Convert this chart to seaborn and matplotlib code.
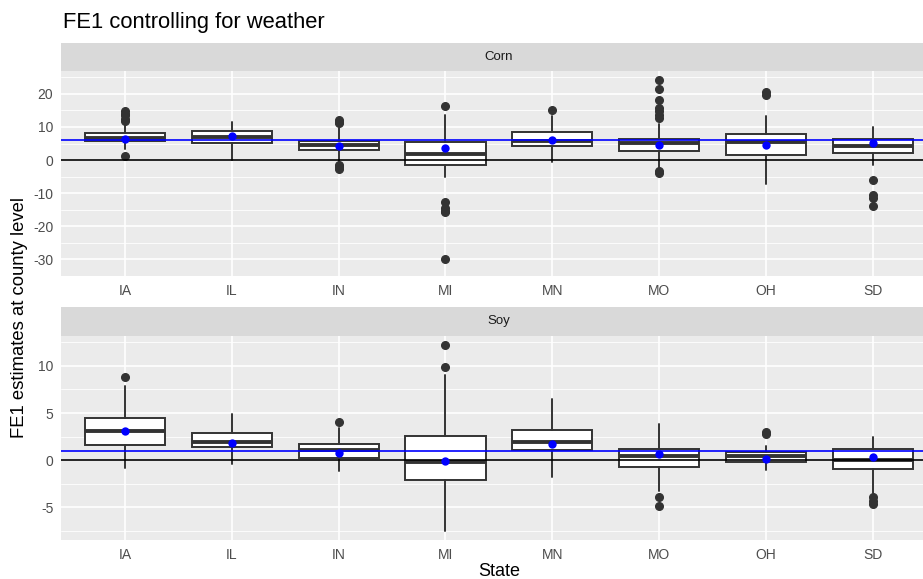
import numpy as np
import matplotlib
matplotlib.use("Agg")
import matplotlib.pyplot as plt
import seaborn as sns

# FE1 estimates by state, box stats
states = ["IA", "IL", "IN", "MI", "MN", "MO", "OH", "SD"]

corn_q1 = [5.65, 5.15, 3.1, -1.35, 4.4, 2.6, 1.55, 2.25]
corn_med = [6.6, 6.9, 4.5, 1.75, 5.9, 5.3, 5.45, 4.3]
corn_q3 = [8.1, 8.65, 5.85, 5.35, 8.35, 6.5, 7.9, 6.25]
corn_lo = [3.5, 0.0, -0.7, -5.0, -0.7, -2.3, -7.2, -1.35]
corn_hi = [11.5, 11.6, 9.6, 13.7, 13.2, 11.0, 13.4, 10.1]
corn_out = [[14.7, 14.0, 13.5, 12.5, 11.8, 1.3], [],
            [12.2, 11.6, 11.3, -1.4, -2.2, -2.8],
            [16.4, -12.6, -14.5, -15.3, -15.8, -30.0], [15.1],
            [24.2, 21.5, 18.3, 15.6, 14.7, 13.7, 12.7, -3.2, -4.0],
            [20.5, 19.7], [-6.0, -10.4, -11.4, -14.0]]
corn_mean = [6.4, 7.3, 4.4, 3.8, 6.0, 4.65, 4.5, 5.25]
corn_overall = 6.2

soy_q1 = [1.65, 1.37, 0.28, -2.04, 1.06, -0.74, -0.14, -0.95]
soy_med = [3.1, 1.97, 1.13, -0.21, 1.94, 0.45, 0.49, 0.05]
soy_q3 = [4.5, 2.92, 1.73, 2.6, 3.2, 1.2, 0.92, 1.2]
soy_lo = [-0.85, -0.42, -1.13, -7.46, -1.73, -3.3, -1.06, -3.42]
soy_hi = [7.9, 4.86, 3.45, 9.05, 6.5, 3.87, 1.51, 2.46]
soy_out = [[8.77], [], [4.08], [12.2, 9.82], [], [-3.84, -4.82],
           [3.03, 2.75], [-3.94, -4.3, -4.65]]
soy_mean = [3.1, 1.83, 0.81, -0.1, 1.73, 0.63, 0.1, 0.32]
soy_overall = 1.0

sns.set_theme(style="darkgrid", rc={
    "axes.facecolor": "#EBEBEB",
    "grid.color": "white",
    "axes.edgecolor": "#EBEBEB",
    "xtick.color": "#333333",
    "ytick.color": "#333333",
    "xtick.labelcolor": "#4D4D4D",
    "ytick.labelcolor": "#4D4D4D",
    "axes.unicode_minus": False,
})
plt.rcParams["font.family"] = ["Liberation Sans", "DejaVu Sans"]

fig = plt.figure(figsize=(9.23, 5.79), dpi=100)

W, H = 923, 579
left, right = 61, 936.8


def frac_box(x0, x1, top, bottom):
    return [x0 / W, 1 - bottom / H, (x1 - x0) / W, (bottom - top) / H]


panels = [
    ("Corn", (43, 71, 276), corn_q1, corn_med, corn_q3, corn_lo, corn_hi,
     corn_out, corn_mean, corn_overall, [-30, -20, -10, 0, 10, 20], 10),
    ("Soy", (307, 335.7, 540), soy_q1, soy_med, soy_q3, soy_lo, soy_hi,
     soy_out, soy_mean, soy_overall, [-5, 0, 5, 10], 5),
]

for (name, (s_top, p_top, p_bot), q1, med, q3, lo, hi, out, means,
     overall, yt, step) in panels:
    # strip
    sax = fig.add_axes(frac_box(left, right, s_top, p_top))
    sax.set_facecolor("#D9D9D9")
    sax.set_xticks([])
    sax.set_yticks([])
    sax.grid(False)
    for sp in sax.spines.values():
        sp.set_visible(False)
    sax.text(0.5, 0.5, name, ha="center", va="center", fontsize=9.5,
             color="#1A1A1A", transform=sax.transAxes)

    ax = fig.add_axes(frac_box(left, right, p_top, p_bot))
    stats = []
    for i, s in enumerate(states):
        stats.append({"label": s, "q1": q1[i], "med": med[i], "q3": q3[i],
                      "whislo": lo[i], "whishi": hi[i], "fliers": out[i]})
    ax.bxp(stats, positions=np.arange(len(states)), widths=0.75,
           patch_artist=True, showfliers=True,
           boxprops=dict(facecolor="white", edgecolor="#333333", linewidth=1.4),
           medianprops=dict(color="#333333", linewidth=2.8),
           whiskerprops=dict(color="#333333", linewidth=1.4),
           capprops=dict(linewidth=0),
           flierprops=dict(marker="o", markerfacecolor="#333333",
                           markeredgecolor="#333333", markersize=5.5))
    ax.axhline(0, color="black", linewidth=1.2, zorder=4)
    ax.axhline(overall, color="blue", linewidth=1.2, zorder=4)
    sns.stripplot(x=states, y=means, jitter=False, color="blue", size=6,
                  linewidth=0, ax=ax, zorder=6)

    allv = lo + hi + [v for o in out for v in o]
    vmin, vmax = min(allv), max(allv)
    pad = (vmax - vmin) * 0.05
    ax.set_ylim(vmin - pad, vmax + pad)
    ax.set_xlim(-0.6, len(states) - 0.4)
    ax.set_yticks(yt)
    ax.set_yticks(np.arange(yt[0] - step / 2, vmax + pad, step), minor=True)
    ax.set_xticks(np.arange(len(states)))
    ax.set_xticklabels(states)
    ax.grid(which="major", color="white", linewidth=1.2)
    ax.grid(which="minor", axis="y", color="white", linewidth=0.6)
    ax.tick_params(which="major", length=2.5, width=0.9, labelsize=10, pad=3)
    ax.tick_params(which="minor", length=0)
    ax.set_xlabel("")
    ax.set_ylabel("")
    for sp in ax.spines.values():
        sp.set_visible(False)

fig.text(62.7 / W, 1 - 28.3 / H, "FE1 controlling for weather", fontsize=15.8,
         ha="left", va="baseline", color="black")
fig.text(20 / W, 1 - 318 / H, "FE1 estimates at county level", fontsize=13.3,
         rotation=90, ha="center", va="center", color="black")
fig.text((left + right) / 2 / W, 1 - 576 / H, "State", fontsize=13,
         ha="center", va="baseline", color="black")

fig.savefig("out.png", dpi=100)
